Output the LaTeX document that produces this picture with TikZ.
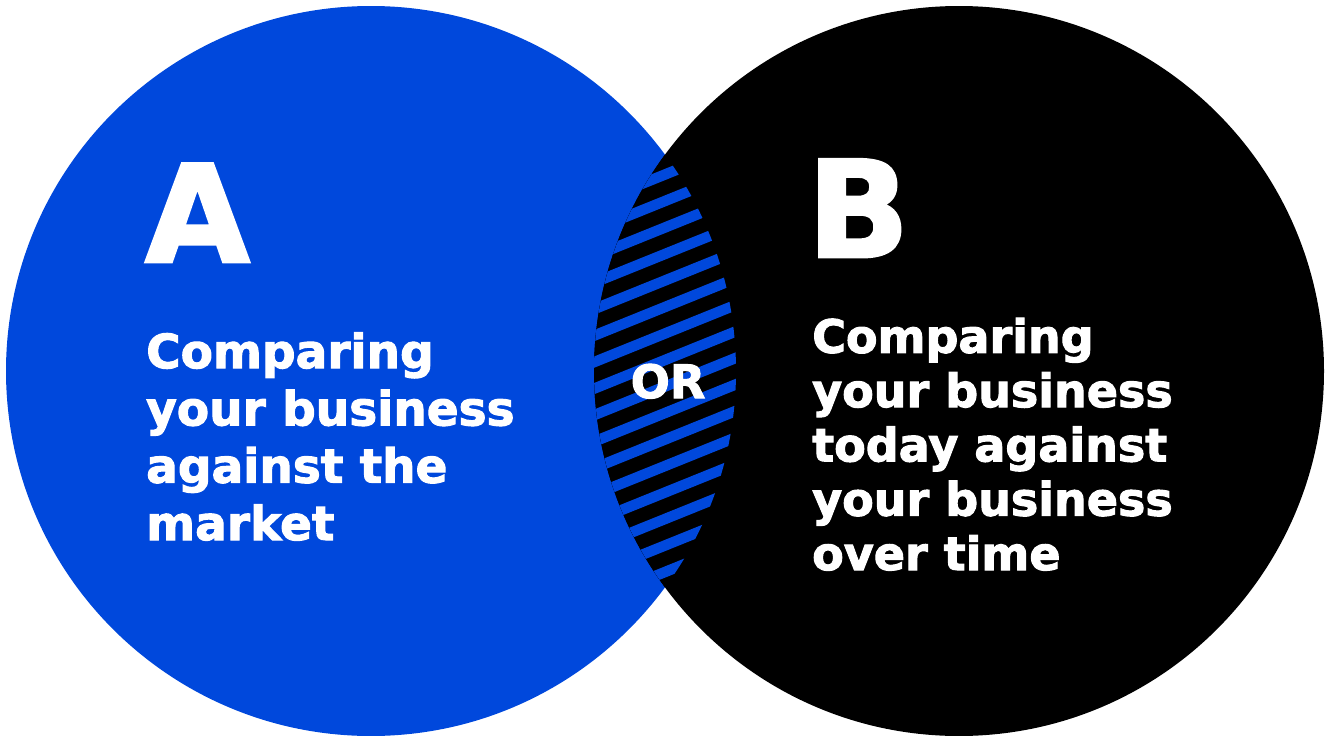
\documentclass[tikz,border=0pt]{standalone}
\usepackage{fontspec}
\newfontfamily\heavy{DejaVu Sans}[UprightFont={* Bold},FakeBold=2.2]
\definecolor{vennblue}{RGB}{0,72,220}
\begin{document}
\begin{tikzpicture}[x=1pt,y=-1pt,
  label/.style={anchor=base west,inner sep=0pt,text=white,align=left},
  letter/.style={anchor=base west,inner sep=0pt,text=white},
  stripe/.style={draw=vennblue,line width=10.5pt}]
\useasboundingbox (0,0) rectangle (1326,736);
% the two sets
\fill[vennblue] (371,371) circle[radius=365];
\fill[black] (959,371) circle[radius=365];
% striped overlap
\begin{scope}
  \clip (371,371) circle[radius=365];
  \clip (959,371) circle[radius=365];
  \fill[black] (590,150) rectangle (740,592);
  \foreach \k in {-10,...,10}{
    \draw[stripe] (560,{386.5+\k*26.5+42.4}) -- (770,{386.5+\k*26.5-42.4});
  }
\end{scope}
% labels (anchored at the baseline of the last line)
\node[letter,font=\heavy\fontsize{135}{135}\selectfont] (A) at (145,262) {A};
\node[letter,font=\heavy\fontsize{134}{134}\selectfont] (B) at (807,257) {B};
\node[label,font=\heavy\fontsize{47}{57.3}\selectfont] (ta) at (146,540)
  {Comparing\\your business\\against the\\market};
\node[label,font=\heavy\fontsize{46}{54.3}\selectfont] (tb) at (812,570)
  {Comparing\\your business\\today against\\your business\\over time};
\node[anchor=base,inner sep=0pt,text=white,font=\heavy\fontsize{46}{46}\selectfont] (or) at (668,398) {OR};
\end{tikzpicture}
\end{document}
